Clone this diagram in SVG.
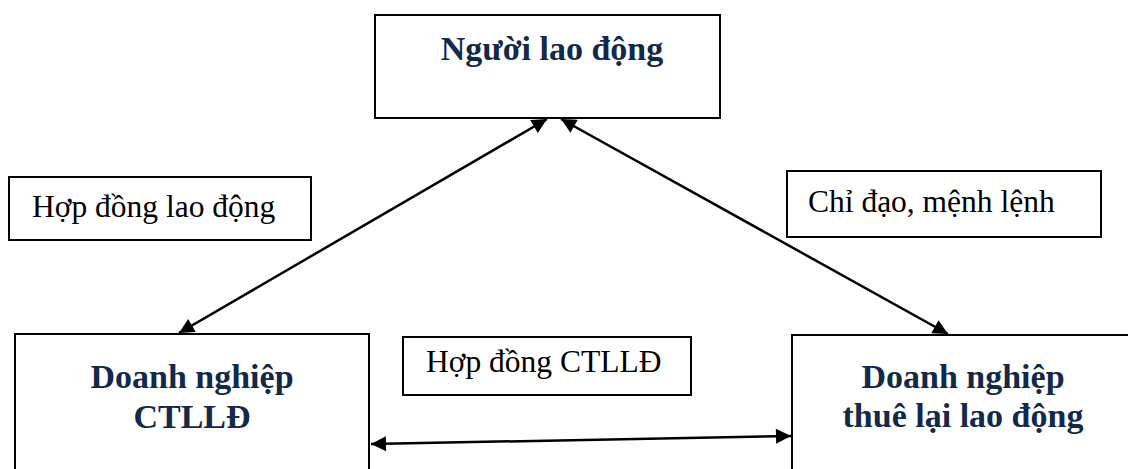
<svg xmlns="http://www.w3.org/2000/svg" width="1128" height="469" viewBox="0 0 1128 469">
<style>
.box{fill:#fff;stroke:#000;stroke-width:2}
.node{font-family:"Liberation Serif","Times New Roman",serif;font-weight:bold;font-size:34px;fill:#13294a;text-anchor:middle}
.lbl{font-family:"Liberation Serif","Times New Roman",serif;font-size:31.5px;fill:#000}
.con{stroke:#000;stroke-width:2.5;fill:none;marker-start:url(#ah);marker-end:url(#ah)}
</style>
<defs>
<marker id="ah" viewBox="0 0 10 10" refX="10" refY="5" markerWidth="17" markerHeight="15" orient="auto-start-reverse" markerUnits="userSpaceOnUse">
<path d="M0,0 L10,5 L0,10 Z" fill="#000"/>
</marker>
</defs>
<rect width="1128" height="469" fill="#fff"/>
<g id="connectors">
<line class="con" x1="179" y1="333" x2="547" y2="119"/>
<line class="con" x1="561" y1="119" x2="948" y2="334"/>
<line class="con" x1="371" y1="444" x2="791" y2="436"/>
</g>
<g id="node-nguoi-lao-dong">
<rect class="box" x="375" y="15" width="345" height="103"/>
<text class="node" x="552" y="60">Người lao động</text>
</g>
<g id="node-dn-ctlld">
<rect class="box" x="15" y="334" width="354" height="145"/>
<text class="node" x="192" y="388">Doanh nghiệp</text>
<text class="node" x="192" y="428">CTLLĐ</text>
</g>
<g id="node-dn-thue">
<rect class="box" x="792" y="335" width="346" height="145"/>
<text class="node" x="963" y="388">Doanh nghiệp</text>
<text class="node" x="963" y="427">thuê lại lao động</text>
</g>
<g id="label-hop-dong-lao-dong">
<rect class="box" x="9" y="177" width="302" height="63"/>
<text class="lbl" x="32" y="217">Hợp đồng lao động</text>
</g>
<g id="label-chi-dao">
<rect class="box" x="787" y="171" width="314" height="66"/>
<text class="lbl" x="808" y="212">Chỉ đạo, mệnh lệnh</text>
</g>
<g id="label-hop-dong-ctlld">
<rect class="box" x="403" y="337" width="288" height="58"/>
<text class="lbl" x="426" y="372">Hợp đồng CTLLĐ</text>
</g>
</svg>
